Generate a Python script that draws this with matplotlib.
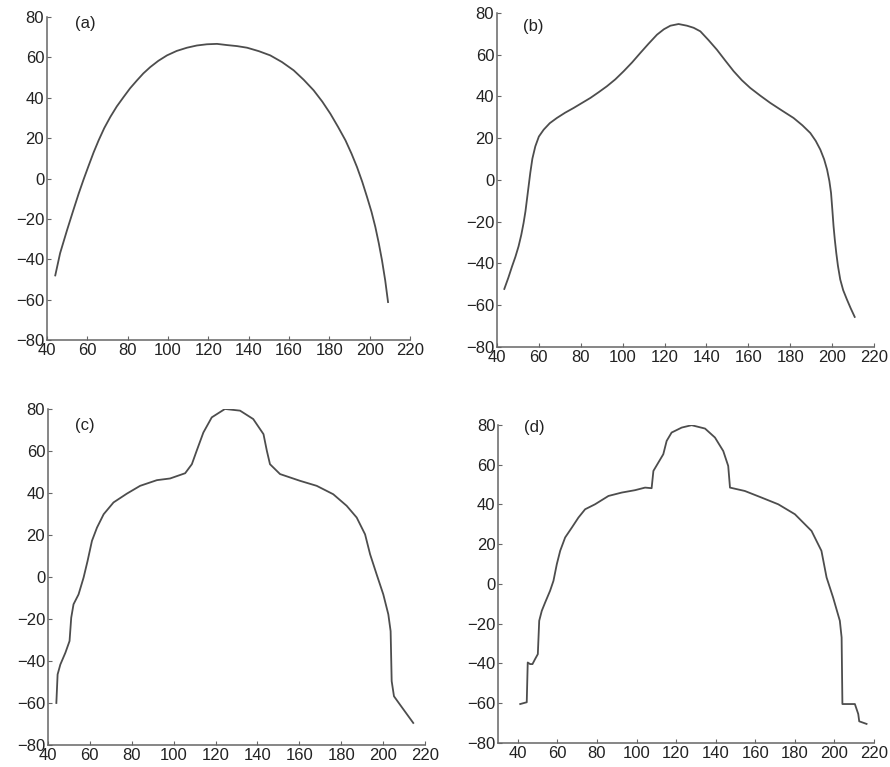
import numpy as np
import matplotlib.pyplot as plt

plt.rcParams["font.family"] = ["Liberation Sans", "DejaVu Sans"]

# (a) fitted parabola-like profile
xa = [44.1, 46.5, 49.9, 52.8, 55.7, 58.2, 60.7, 63.1, 65.6, 68.4, 71.4, 74.6,
      78.0, 81.2, 84.6, 87.8, 91.2, 95.2, 99.5, 104.3, 109.4, 114.3, 119.3,
      124.3, 129.3, 134.2, 139.2, 145.0, 150.7, 156.5, 162.3, 167.3, 172.2,
      176.5, 180.5, 184.3, 188.0, 191.0, 193.7, 196.3, 198.7, 200.9, 202.8,
      204.5, 206.1, 207.7, 209.1]
ya = [-48.0, -37.0, -25.7, -16.5, -7.5, -0.3, 6.5, 12.9, 18.9, 25.0, 30.5, 35.7,
      40.4, 44.7, 48.6, 52.1, 55.2, 58.3, 61.0, 63.2, 64.8, 65.9, 66.5,
      66.7, 66.1, 65.6, 64.8, 63.1, 61.0, 57.7, 53.6, 48.9, 43.7,
      38.1, 32.1, 25.6, 18.9, 12.3, 5.7, -1.6, -9.2, -16.5, -24.0,
      -32.0, -40.5, -50.5, -61.2]

# (b) smoothed profile
xb = [43.5, 45.4, 47.2, 48.8, 50.3, 51.6, 52.7, 53.6, 54.3, 55.1, 55.9, 56.9,
      58.3, 60.0, 62.3, 65.2, 68.6, 72.5, 76.6, 80.6, 84.6, 88.5, 92.5, 96.5,
      100.5, 104.5, 108.4, 112.4, 116.4, 119.7, 122.8, 126.7, 130.7, 133.9,
      137.1, 141.0, 145.0, 149.0, 153.0, 156.9, 160.9, 165.7, 170.5, 176.0,
      181.6, 185.8, 189.6, 192.2, 194.4, 196.2, 197.6, 198.7, 199.5, 200.1,
      200.7, 201.3, 202.0, 202.8, 203.9, 205.3, 207.1, 208.9, 210.8]
yb = [-52.2, -46.9, -41.4, -36.8, -31.8, -26.3, -20.6, -15.0, -9.4, -3.0, 3.4, 10.2,
      16.1, 20.8, 24.1, 27.2, 29.7, 32.2, 34.5, 36.9, 39.3, 42.0, 44.9, 48.2,
      52.1, 56.3, 60.8, 65.3, 69.6, 72.2, 73.9, 74.7, 73.9, 72.9,
      71.2, 67.0, 62.4, 57.2, 52.1, 47.8, 44.1, 40.4, 36.9, 33.3,
      29.7, 26.2, 22.5, 18.7, 14.5, 9.9, 5.0, -0.5, -6.2, -14.0,
      -22.2, -28.6, -35.0, -41.2, -47.7, -52.8, -57.3, -61.5, -65.6]

# (c) raw segmented profile
xc = [44.0, 44.6, 45.9, 48.3, 50.3, 51.1, 52.2, 54.6, 57.0, 58.9, 61.0, 63.4,
      66.6, 71.3, 77.7, 84.0, 92.0, 98.3, 105.5, 108.7, 111.0, 114.2, 118.2,
      124.5, 131.7, 138.0, 142.9, 144.5, 146.0, 150.8, 160.3, 168.3, 176.2,
      182.6, 187.4, 191.4, 193.8, 196.9, 200.1, 202.5, 203.6, 204.1, 205.2,
      208.0, 214.4]
yc = [-60.0, -46.4, -41.7, -36.1, -30.5, -19.4, -13.0, -8.3, -0.3, 7.6, 17.2, 23.5,
      29.9, 35.5, 39.7, 43.4, 46.1, 46.9, 49.4, 53.7, 60.1, 68.8, 76.0,
      80.0, 79.2, 75.2, 68.0, 60.1, 53.7, 49.0, 45.8, 43.4, 39.4,
      33.9, 28.3, 20.3, 10.8, 1.3, -8.3, -17.8, -25.8, -49.6, -56.8,
      -60.7, -69.5]

# (d) edge-traced profile
xd = [41.2, 44.5, 45.0, 46.2, 47.4, 48.7, 50.1, 50.8, 52.1, 53.8, 56.3, 58.0,
      59.7, 61.4, 63.9, 67.3, 70.6, 74.0, 79.0, 85.8, 92.5, 99.2, 104.3, 107.6,
      108.5, 111.0, 113.5, 115.2, 117.7, 122.8, 127.8, 134.6, 139.6, 143.8,
      146.3, 147.2, 154.7, 163.1, 171.6, 180.0, 188.4, 193.4, 196.0, 199.3,
      202.7, 203.6, 204.0, 210.3, 212.0, 212.5, 216.2]
yd = [-60.4, -59.5, -39.5, -40.3, -40.3, -37.8, -35.3, -18.5, -13.5, -9.3, -3.4, 1.6,
      10.0, 16.7, 23.4, 28.4, 33.4, 37.6, 40.1, 44.3, 46.0, 47.2, 48.5, 48.2,
      56.9, 61.1, 65.3, 72.0, 76.2, 78.7, 79.9, 78.2, 73.7, 66.9,
      59.4, 48.5, 46.8, 43.5, 40.1, 35.1, 26.7, 16.7, 3.3, -6.8,
      -18.5, -26.9, -60.4, -60.4, -65.4, -69.1, -70.4]

panels = [
    ("(a)", xa, ya, [0.0528, 0.5567, 0.4079, 0.4211], (40, 220), (54, 77)),
    ("(b)", xb, yb, [0.5584, 0.5476, 0.4236, 0.4355], (40, 220), (52.5, 73.5)),
    ("(c)", xc, yc, [0.0539, 0.0287, 0.4236, 0.4381], (40, 220), (53, 72)),
    ("(d)", xd, yd, [0.5596, 0.0313, 0.4225, 0.4146], (30, 220), (43, 78.5)),
]

fig = plt.figure(figsize=(8.9, 7.67), dpi=100)
for tag, x, y, rect, xlim, txt in panels:
    ax = fig.add_axes(rect)
    ax.plot(x, y, color="#4d4d4d", lw=1.3, solid_joinstyle="round")
    ax.set_xlim(*xlim)
    ax.set_ylim(-80, 80)
    ax.set_xticks(np.arange(40, 221, 20))
    ax.set_yticks(np.arange(-80, 81, 20))
    for s in ["top", "right"]:
        ax.spines[s].set_visible(False)
    for s in ["left", "bottom"]:
        ax.spines[s].set_color("#666666")
        ax.spines[s].set_linewidth(1.1)
    ax.tick_params(direction="in", length=3, width=0.8, color="#666666",
                   labelsize=12, labelcolor="#222222", pad=2)
    ax.text(txt[0], txt[1], tag, fontsize=12, color="#222222", va="center")

plt.savefig("out.png", dpi=100)
